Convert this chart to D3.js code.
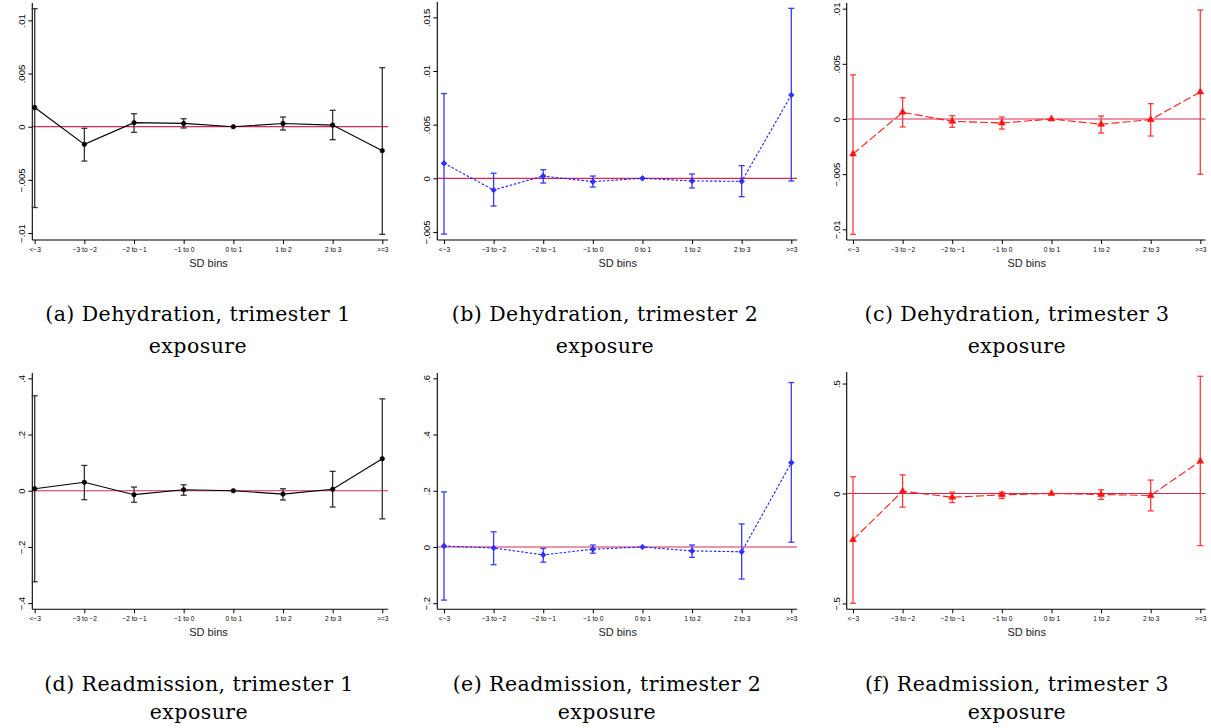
<!DOCTYPE html>
<html><head><meta charset="utf-8">
<script src="https://cdn.jsdelivr.net/npm/d3@7"></script>
<style>
html,body{margin:0;padding:0;background:#fff;}
svg{display:block;}
</style></head>
<body>
<svg id="chart" width="1211" height="728"></svg>
<script>
// ---------------- DATA ----------------
const categories = ["<\u22123", "\u22123 to \u22122", "\u22122 to \u22121", "\u22121 to 0", "0 to 1", "1 to 2", "2 to 3", ">=3"];

const dehydT1Est = [0.0018, -0.00166, 0.00038, 0.00031, 0, 0.0003, 0.00015, -0.00226];
const dehydT1Lo  = [-0.0076, -0.00323, -0.00053, -0.00012, null, -0.00031, -0.00122, -0.01012];
const dehydT1Hi  = [0.0111, -0.00015, 0.00122, 0.00075, null, 0.00091, 0.00154, 0.00555];

const dehydT2Est = [0.0014, -0.00109, 0.00021, -0.00031, 0, -0.00025, -0.00028, 0.00776];
const dehydT2Lo  = [-0.0052, -0.00258, -0.00044, -0.00081, null, -0.0009, -0.00171, -0.00025];
const dehydT2Hi  = [0.0079, 0.00047, 0.0008, 0.00021, null, 0.0004, 0.00118, 0.01584];

const dehydT3Est = [-0.00317, 0.00061, -0.00021, -0.00036, 0, -0.00048, -0.00006, 0.00245];
const dehydT3Lo  = [-0.01045, -0.00072, -0.00075, -0.00091, null, -0.00127, -0.00154, -0.00501];
const dehydT3Hi  = [0.0040, 0.00193, 0.0003, 0.00018, null, 0.00027, 0.00139, 0.00988];

const readmT1Est = [0.007, 0.030, -0.014, 0.0036, 0, -0.012, 0.005, 0.114];
const readmT1Lo  = [-0.324, -0.032, -0.041, -0.016, null, -0.033, -0.058, -0.100];
const readmT1Hi  = [0.338, 0.090, 0.013, 0.021, null, 0.007, 0.069, 0.327];

const readmT2Est = [0.0036, -0.0036, -0.028, -0.008, 0, -0.014, -0.017, 0.300];
const readmT2Lo  = [-0.189, -0.063, -0.054, -0.022, null, -0.037, -0.114, 0.017];
const readmT2Hi  = [0.196, 0.054, -0.005, 0.007, null, 0.007, 0.082, 0.585];

const readmT3Est = [-0.210, 0.0105, -0.017, -0.006, 0, -0.0045, -0.009, 0.147];
const readmT3Lo  = [-0.499, -0.062, -0.041, -0.023, null, -0.027, -0.079, -0.237];
const readmT3Hi  = [0.076, 0.085, 0.006, 0.006, null, 0.017, 0.061, 0.533];

const ticksDehydT1 = [-0.01, -0.005, 0, 0.005, 0.01];
const ticksDehydT2 = [-0.005, 0, 0.005, 0.01, 0.015];
const ticksDehydT3 = [-0.01, -0.005, 0, 0.005, 0.01];
const ticksReadmT1 = [-0.4, -0.2, 0, 0.2, 0.4];
const ticksReadmT2 = [-0.2, 0, 0.2, 0.4, 0.6];
const ticksReadmT3 = [-0.5, 0, 0.5];

const captionsLine1 = ["(a) Dehydration, trimester 1", "(b) Dehydration, trimester 2", "(c) Dehydration, trimester 3",
                       "(d) Readmission, trimester 1", "(e) Readmission, trimester 2", "(f) Readmission, trimester 3"];
const captionLine2 = "exposure";
const xAxisTitle = "SD bins";

// ---------------- LAYOUT / STYLE ----------------
const panels = [
  {est: dehydT1Est, lo: dehydT1Lo, hi: dehydT1Hi, ticks: ticksDehydT1, domain: [-0.010655, 0.011634],
   ax: 32.3, x0: 34.7, x1: 382.3, xe: 388, top: 3, bot: 240, style: "black"},
  {est: dehydT2Est, lo: dehydT2Lo, hi: dehydT2Hi, ticks: ticksDehydT2, domain: [-0.00575, 0.01643],
   ax: 437.3, x0: 444, x1: 791.3, xe: 797, top: 2, bot: 240, style: "blue"},
  {est: dehydT3Est, lo: dehydT3Lo, hi: dehydT3Hi, ticks: ticksDehydT3, domain: [-0.010967, 0.010514],
   ax: 846.7, x0: 853, x1: 1200.3, xe: 1205.5, top: 3, bot: 240, style: "red"},
  {est: readmT1Est, lo: readmT1Lo, hi: readmT1Hi, ticks: ticksReadmT1, domain: [-0.422, 0.419],
   ax: 32.3, x0: 34.7, x1: 382.3, xe: 388, top: 373, bot: 609.3, style: "black"},
  {est: readmT2Est, lo: readmT2Lo, hi: readmT2Hi, ticks: ticksReadmT2, domain: [-0.2217, 0.619],
   ax: 437.3, x0: 444, x1: 791.3, xe: 797, top: 373, bot: 609.3, style: "blue"},
  {est: readmT3Est, lo: readmT3Lo, hi: readmT3Hi, ticks: ticksReadmT3, domain: [-0.5265, 0.5525],
   ax: 846.7, x0: 853, x1: 1200.3, xe: 1205.5, top: 372, bot: 609.3, style: "red"}
];
const captionPos = [
  {cx: 198, y1: 321, y2: 353}, {cx: 605, y1: 321, y2: 353}, {cx: 1017, y1: 321, y2: 353},
  {cx: 199, y1: 691, y2: 719}, {cx: 607, y1: 691, y2: 719}, {cx: 1017, y1: 691, y2: 719}
];
const styles = {
  black: {line: "#000", dash: null, bar: "#333", marker: "circle", mfill: "#000"},
  blue:  {line: "#1a1aff", dash: "2.5,1.8", bar: "#3a3aff", marker: "diamond", mfill: "#3030ff"},
  red:   {line: "#ff1a1a", dash: "8,3", bar: "#ff3a3a", marker: "triangle", mfill: "#ff1010"}
};
const zeroColor = "#d42a55";

function fmt(v) {
  if (v === 0) return "0";
  const a = Math.abs(v);
  const s = String(+a.toPrecision(6)).replace(/^0\./, ".");
  return (v < 0 ? "\u2212" : "") + s;
}

const svg = d3.select("#chart");

panels.forEach((p, i) => {
  const st = styles[p.style];
  const g = svg.append("g");
  const x = d3.scalePoint().domain(categories).range([p.x0, p.x1]);
  const y = d3.scaleLinear().domain(p.domain).range([p.bot, p.top]);

  // axes
  const yAxis = d3.axisLeft(y).tickValues(p.ticks).tickFormat(fmt).tickSize(4).tickSizeOuter(0);
  const yg = g.append("g").attr("transform", `translate(${p.ax},0)`).call(yAxis);
  yg.select(".domain").attr("d", `M0,${p.top}V${p.bot}`).attr("stroke", "#000").attr("stroke-width", 1.1);
  yg.selectAll(".tick line").attr("stroke", "#000");
  yg.selectAll(".tick text")
    .attr("font-family", "'Liberation Sans', Arial, sans-serif")
    .attr("font-size", 9.5).attr("fill", "#000")
    .attr("x", null).attr("dy", null)
    .attr("text-anchor", "middle")
    .attr("transform", "translate(-7,0) rotate(-90)");

  const xAxis = d3.axisBottom(x).tickSize(4).tickSizeOuter(0);
  const xg = g.append("g").attr("transform", `translate(0,${p.bot})`).call(xAxis);
  xg.select(".domain").attr("d", `M${p.ax},0H${p.xe}`).attr("stroke", "#000").attr("stroke-width", 1.1);
  xg.selectAll(".tick line").attr("stroke", "#000");
  xg.selectAll(".tick text")
    .attr("font-family", "'Liberation Sans', Arial, sans-serif")
    .attr("font-size", 6.6).attr("fill", "#000").attr("y", 7).attr("dy", "0.71em");

  g.append("text")
    .attr("x", (p.x0 + p.x1) / 2).attr("y", p.bot + 26.5)
    .attr("text-anchor", "middle")
    .attr("font-family", "'Liberation Sans', Arial, sans-serif")
    .attr("font-size", 11).attr("fill", "#222")
    .text(xAxisTitle);

  // zero line
  g.append("line")
    .attr("x1", p.ax + 0.5).attr("x2", p.xe)
    .attr("y1", y(0)).attr("y2", y(0))
    .attr("stroke", zeroColor).attr("stroke-width", 1.2);

  const rows = categories.map((c, k) => ({c, est: p.est[k], lo: p.lo[k], hi: p.hi[k]}));

  // error bars
  const ci = rows.filter(r => r.lo !== null && r.hi !== null);
  const eb = g.append("g").attr("stroke", st.bar).attr("stroke-width", 1.3).attr("fill", "none");
  eb.selectAll("line.v").data(ci).join("line").attr("class", "v")
    .attr("x1", r => x(r.c)).attr("x2", r => x(r.c))
    .attr("y1", r => y(r.hi)).attr("y2", r => y(r.lo));
  eb.selectAll("line.t").data(ci).join("line").attr("class", "t")
    .attr("x1", r => x(r.c) - 3).attr("x2", r => x(r.c) + 3)
    .attr("y1", r => y(r.hi)).attr("y2", r => y(r.hi));
  eb.selectAll("line.b").data(ci).join("line").attr("class", "b")
    .attr("x1", r => x(r.c) - 3).attr("x2", r => x(r.c) + 3)
    .attr("y1", r => y(r.lo)).attr("y2", r => y(r.lo));

  // connecting line
  const line = d3.line().x(r => x(r.c)).y(r => y(r.est));
  g.append("path").datum(rows)
    .attr("d", line).attr("fill", "none")
    .attr("stroke", st.line).attr("stroke-width", 1.1)
    .attr("stroke-dasharray", st.dash);

  // markers
  const symType = st.marker === "circle" ? d3.symbolCircle : (st.marker === "diamond" ? d3.symbolSquare : d3.symbolTriangle);
  const size = st.marker === "circle" ? 16 : (st.marker === "diamond" ? 16 : 20);
  g.selectAll("path.m").data(rows).join("path").attr("class", "m")
    .attr("d", d3.symbol().type(symType).size(size))
    .attr("transform", r => `translate(${x(r.c)},${y(r.est)})` + (st.marker === "diamond" ? " rotate(45)" : ""))
    .attr("fill", st.mfill).attr("stroke", st.line).attr("stroke-width", 0.6);

  // caption
  const cp = captionPos[i];
  const cap = svg.append("g")
    .attr("font-family", "'DejaVu Serif', 'Liberation Serif', serif")
    .attr("font-size", 20.5).attr("letter-spacing", 0.45)
    .attr("fill", "#000").attr("text-anchor", "middle");
  cap.append("text").attr("x", cp.cx).attr("y", cp.y1).text(captionsLine1[i]);
  cap.append("text").attr("x", cp.cx).attr("y", cp.y2).text(captionLine2);
});
</script>
</body></html>
